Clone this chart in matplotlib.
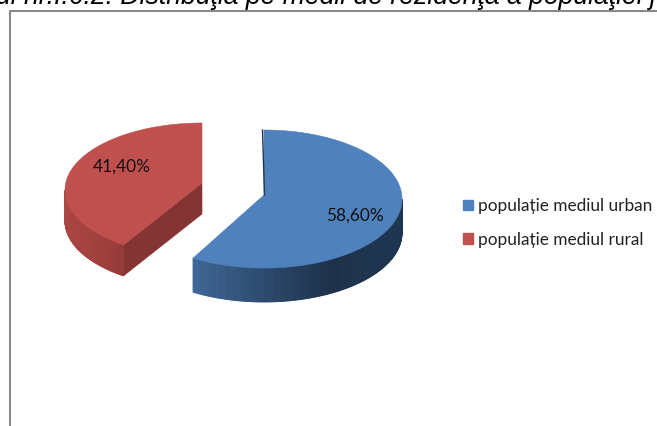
import numpy as np
import matplotlib
matplotlib.use("Agg")
import matplotlib.pyplot as plt
from matplotlib.colors import LinearSegmentedColormap
from matplotlib.patches import Patch

# Data
labels = ["populație mediul urban", "populație mediul rural"]
shares = [58.60, 41.40]
value_labels = ["58,60%", "41,40%"]
title = "ul nr.I.6.2: Distribuţia pe medii de rezidenţă a populaţiei j"

BLUE = "#4f81bd"
RED = "#c0504d"

blue_side = LinearSegmentedColormap.from_list("b", ["#3f6796", "#2c4a6e", "#1c3049", "#1f3652"])
red_side = LinearSegmentedColormap.from_list("r", ["#ab4744", "#a34240", "#953b39"])


def ellipse(cx, cy, a, b, theta):
    # theta in degrees, clockwise from the top of the pie
    t = np.radians(theta)
    return cx + a * np.sin(t), cy - b * np.cos(t)


def slice_3d(ax, cx, cy, a, b, start, end, apex, color, cmap, side_from, side_to, x0, x1, depth):
    # curved outer side, in thin strips for the shading
    th = np.linspace(side_from, side_to, 160)
    xs, ys = ellipse(cx, cy, a, b, th)
    for i in range(len(th) - 1):
        c = cmap((xs[i] - x0) / (x1 - x0))
        ax.fill([xs[i], xs[i + 1], xs[i + 1], xs[i]],
                [ys[i], ys[i + 1], ys[i + 1] + depth, ys[i] + depth],
                color=c, lw=0.6, zorder=2)
    # top face
    th = np.linspace(start, end, 200)
    xs, ys = ellipse(cx, cy, a, b, th)
    ax.fill(np.r_[apex[0], xs], np.r_[apex[1], ys], color=color, lw=0.4, zorder=3)


fig = plt.figure(figsize=(6.57, 4.26), dpi=100)
ax = fig.add_axes([0, 0, 1, 1])
ax.set_xlim(0, 657)
ax.set_ylim(426, 0)
ax.axis("off")

# frame of the pasted chart
ax.plot([9.8, 9.8, 657], [426, 11, 11], color="#868686", lw=1.4)

angle = 360 * shares[0] / sum(shares)

# urban slice
slice_3d(ax, 264, 199, 138, 69, 0, angle, (264, 195), BLUE, blue_side, angle, 90, 192, 402, 34)
ax.plot([262.5, 264.5], [130, 195], color="#1f3652", lw=1, zorder=4)

# rural slice, pulled out to the left (perspective turns it a little)
rural_angle = angle + 4
rx, ry, ra, rb = 202, 190, 137, 67
lx, ly = ellipse(rx, ry, ra, rb, rural_angle)
apex = (202, 183)
ax.fill([apex[0], lx, lx, apex[0]], [apex[1], ly, ly + 31, apex[1] + 31],
        color="#843432", lw=0.4, zorder=2)
slice_3d(ax, rx, ry, ra, rb, rural_angle, 360, apex, RED, red_side, 270, rural_angle, 65, 123, 31)

ax.text(355, 216, value_labels[0], fontsize=12.4, family=["Lato", "DejaVu Sans"],
        ha="center", va="center", color="#111111", zorder=5)
ax.text(122, 167, value_labels[1], fontsize=12.4, family=["Lato", "DejaVu Sans"],
        ha="center", va="center", color="#111111", zorder=5)

ax.legend(handles=[Patch(color=BLUE, label=labels[0]), Patch(color=RED, label=labels[1])],
          loc="upper left", bbox_to_anchor=(463, 198), bbox_transform=ax.transData,
          frameon=False, handlelength=0.58, handleheight=0.58, handletextpad=0.28,
          labelspacing=1.03, borderpad=0, borderaxespad=0,
          prop={"family": ["Lato", "DejaVu Sans"], "size": 12.4}, labelcolor="#222222")

ax.text(-4, 4.5, title, fontsize=19.2, family="Liberation Sans", style="italic",
        ha="left", va="baseline", color="black", clip_on=True)

fig.savefig("out.png", dpi=100)
